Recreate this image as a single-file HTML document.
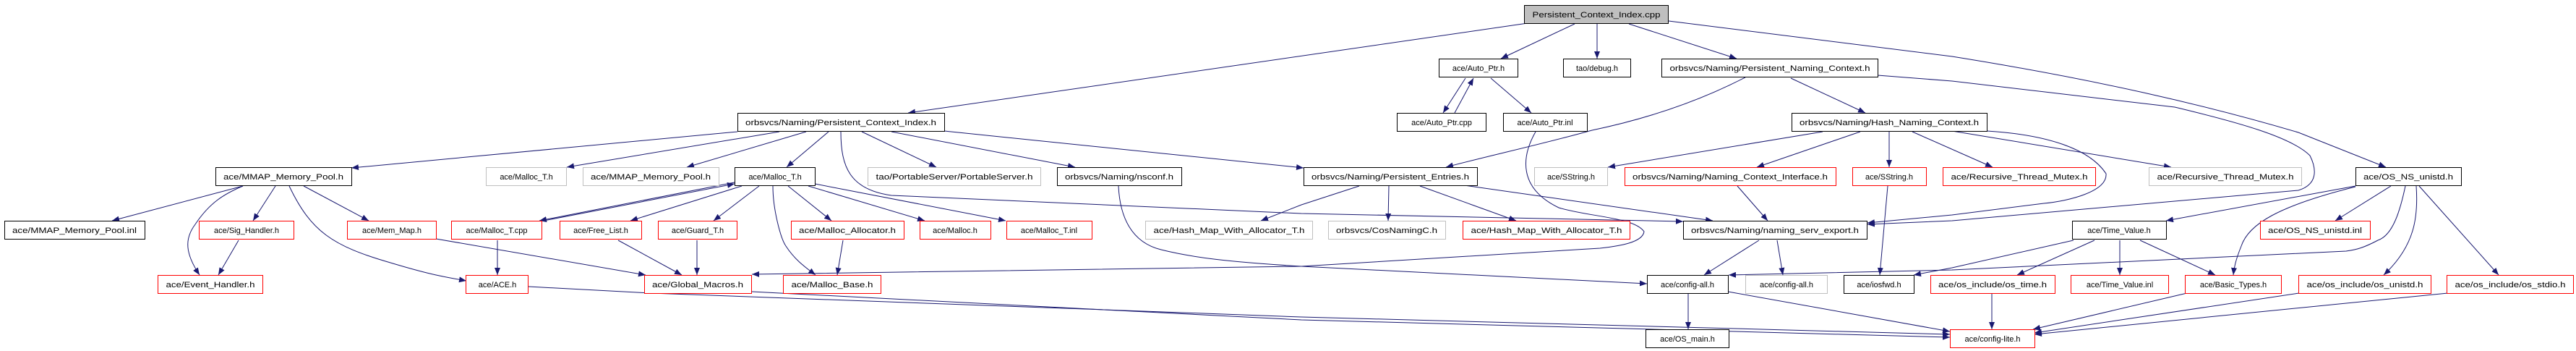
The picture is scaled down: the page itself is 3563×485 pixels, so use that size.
<!DOCTYPE html>
<html><head><meta charset="utf-8"><style>
html,body{margin:0;padding:0;background:#fff;}
svg{display:block;}
text{font-family:"Liberation Sans",sans-serif;font-size:11px;fill:#000;}
.b{fill:#fff;stroke:#000;stroke-width:1;}
.r{fill:#fff;stroke:#ff0000;stroke-width:1;}
.g{fill:#fff;stroke:#bfbfbf;stroke-width:1;}
.e{fill:none;stroke:#191970;stroke-width:1;marker-end:url(#a);}
</style></head><body>
<svg width="3563" height="485" viewBox="0 0 3563 485" xmlns="http://www.w3.org/2000/svg">
<defs><marker id="a" markerUnits="userSpaceOnUse" markerWidth="10" markerHeight="8" refX="10" refY="4" orient="auto"><path d="M0,0 L10,4 L0,8 z" fill="#191970"/></marker></defs>

<!-- edges -->
<path class="e" d="M2113,32 L1256,156"/>
<path class="e" d="M2178,33 L2076,81"/>
<path class="e" d="M2209,33 L2209,81"/>
<path class="e" d="M2253,33 L2402,81"/>
<path class="e" d="M2308,29 L2700,78 C2900,110 3050,145 3179,183 L3300,231"/>

<path class="e" d="M1020,182 L486,232"/>
<path class="e" d="M1078,182 L784,231"/>
<path class="e" d="M1115,182 L950,231"/>
<path class="e" d="M1146,182 L1088,231"/>
<path class="e" d="M1192,182 L1295,231"/>
<path class="e" d="M1233,182 L1487,231"/>
<path class="e" d="M1306,181 L1803,232"/>
<path class="e" d="M1163,182 C1163,230 1175,262 1233,270 L1800,295 L2328,306"/>

<path class="e" d="M1016,252 L746,305"/>
<path class="e" d="M752,305 L1016,254"/>
<path class="e" d="M1026,257 L872,305"/>
<path class="e" d="M1050,257 L987,305"/>
<path class="e" d="M1069,257 C1069,290 1080,330 1087,340 C1100,360 1115,370 1128,380"/>
<path class="e" d="M1090,257 L1150,305"/>
<path class="e" d="M1118,257 L1279,305"/>
<path class="e" d="M1127,254 L1391,305"/>

<path class="e" d="M336,257 L155,305"/>
<path class="e" d="M336,257 C310,268 290,280 270,310 C255,330 256,350 276,380"/>
<path class="e" d="M381,257 L350,305"/>
<path class="e" d="M420,257 L510,305"/>
<path class="e" d="M400,257 C430,320 460,340 540,363 C590,378 610,382 645,388"/>
<path class="e" d="M330,332 L302,380"/>
<path class="e" d="M603,330 L893,380"/>
<path class="e" d="M688,332 L688,380"/>
<path class="e" d="M855,332 L943,380"/>
<path class="e" d="M964,332 L964,380"/>
<path class="e" d="M1166,332 L1158,380"/>
<path class="e" d="M731,396 L900,405 L1800,438 L2697,462"/>
<path class="e" d="M1040,403 L1800,442 L2697,466"/>

<path class="e" d="M1547,257 C1549,300 1565,335 1606,345 C1650,356 1700,362 1800,368 L2278,392"/>
<path class="e" d="M2124,182 C2104,217 2100,260 2156,287 C2200,300 2260,300 2274,320 C2272,335 2240,340 2213,343 L1800,368 L1040,379"/>

<path class="e" d="M1880,257 L1800,283 L1744,305"/>
<path class="e" d="M1921,257 L1920,305"/>
<path class="e" d="M1964,257 L2097,305"/>
<path class="e" d="M2025,256 L2369,305"/>

<path class="e" d="M2027,108 L1996,156"/>
<path class="e" d="M2012,156 L2038,108"/>
<path class="e" d="M2062,108 L2118,156"/>

<path class="e" d="M2414,107 C2330,150 2250,170 2202,180 C2130,200 2060,215 2000,231"/>
<path class="e" d="M2477,108 L2580,156"/>
<path class="e" d="M2597,104 L2700,112 L3008,148 C3100,170 3170,190 3195,215 C3205,235 3205,255 3179,263 L2700,305 L2583,310"/>

<path class="e" d="M2521,182 L2224,231"/>
<path class="e" d="M2573,182 L2430,231"/>
<path class="e" d="M2613,182 L2613,231"/>
<path class="e" d="M2645,182 L2756,231"/>
<path class="e" d="M2700,181 L3003,231"/>
<path class="e" d="M2748,181 C2830,186 2890,205 2913,240 C2915,265 2860,278 2827,281 L2700,297 L2583,308"/>

<path class="e" d="M2403,257 L2445,305"/>
<path class="e" d="M2611,257 L2600,380"/>
<path class="e" d="M2433,332 L2357,380"/>
<path class="e" d="M2458,332 L2466,380"/>
<path class="e" d="M2335,405 L2335,455"/>
<path class="e" d="M2390,403 L2697,458"/>

<path class="e" d="M3258,257 L2996,305"/>
<path class="e" d="M3258,258 C3150,285 3110,310 3100,340 C3092,360 3090,370 3089,380"/>
<path class="e" d="M3307,257 L3230,305"/>
<path class="e" d="M3342,257 C3345,300 3340,340 3297,380"/>
<path class="e" d="M3346,257 L3456,380"/>
<path class="e" d="M3327,257 C3320,290 3310,325 3289,332 C3270,342 3260,345 3245,347 L2700,373 L2391,380"/>
<path class="e" d="M2868,332 L2700,370 L2647,380"/>
<path class="e" d="M2897,332 L2790,380"/>
<path class="e" d="M2932,332 L2932,380"/>
<path class="e" d="M2960,332 L3064,380"/>
<path class="e" d="M2755,405 L2755,455"/>
<path class="e" d="M3025,405 L2812,455"/>
<path class="e" d="M3180,405 L2814,460"/>
<path class="e" d="M3386,405 L2814,462"/>

<!-- nodes -->
<rect x="2108.5" y="7.5" width="199" height="25" fill="#bfbfbf" stroke="#000"/>
<text x="2208" y="24" text-anchor="middle" textLength="177" lengthAdjust="spacingAndGlyphs">Persistent_Context_Index.cpp</text>

<rect class="b" x="1990.5" y="81.5" width="109" height="25"/><text x="2045" y="98" text-anchor="middle">ace/Auto_Ptr.h</text>
<rect class="b" x="2162.5" y="81.5" width="93" height="25"/><text x="2209" y="98" text-anchor="middle">tao/debug.h</text>
<rect class="b" x="2298.5" y="81.5" width="299" height="25"/><text x="2448" y="98" text-anchor="middle" textLength="277" lengthAdjust="spacingAndGlyphs">orbsvcs/Naming/Persistent_Naming_Context.h</text>

<rect class="b" x="1020.5" y="156.5" width="286" height="25"/><text x="1163" y="173" text-anchor="middle" textLength="264" lengthAdjust="spacingAndGlyphs">orbsvcs/Naming/Persistent_Context_Index.h</text>
<rect class="b" x="1932.5" y="156.5" width="123" height="25"/><text x="1994" y="173" text-anchor="middle">ace/Auto_Ptr.cpp</text>
<rect class="b" x="2079.5" y="156.5" width="116" height="25"/><text x="2137" y="173" text-anchor="middle">ace/Auto_Ptr.inl</text>
<rect class="b" x="2478.5" y="156.5" width="270" height="25"/><text x="2613" y="173" text-anchor="middle" textLength="248" lengthAdjust="spacingAndGlyphs">orbsvcs/Naming/Hash_Naming_Context.h</text>

<rect class="b" x="298.5" y="231.5" width="188" height="25"/><text x="392" y="248" text-anchor="middle" textLength="166" lengthAdjust="spacingAndGlyphs">ace/MMAP_Memory_Pool.h</text>
<rect class="g" x="672.5" y="231.5" width="111" height="25"/><text x="728" y="248" text-anchor="middle">ace/Malloc_T.h</text>
<rect class="g" x="806.5" y="231.5" width="188" height="25"/><text x="900" y="248" text-anchor="middle" textLength="166" lengthAdjust="spacingAndGlyphs">ace/MMAP_Memory_Pool.h</text>
<rect class="b" x="1016.5" y="231.5" width="111" height="25"/><text x="1072" y="248" text-anchor="middle">ace/Malloc_T.h</text>
<rect class="g" x="1200.5" y="231.5" width="239" height="25"/><text x="1320" y="248" text-anchor="middle" textLength="217" lengthAdjust="spacingAndGlyphs">tao/PortableServer/PortableServer.h</text>
<rect class="b" x="1462.5" y="231.5" width="172" height="25"/><text x="1548" y="248" text-anchor="middle" textLength="150" lengthAdjust="spacingAndGlyphs">orbsvcs/Naming/nsconf.h</text>
<rect class="b" x="1803.5" y="231.5" width="240" height="25"/><text x="1923" y="248" text-anchor="middle" textLength="218" lengthAdjust="spacingAndGlyphs">orbsvcs/Naming/Persistent_Entries.h</text>
<rect class="g" x="2122.5" y="231.5" width="101" height="25"/><text x="2173" y="248" text-anchor="middle">ace/SString.h</text>
<rect class="r" x="2247.5" y="231.5" width="292" height="25"/><text x="2393" y="248" text-anchor="middle" textLength="270" lengthAdjust="spacingAndGlyphs">orbsvcs/Naming/Naming_Context_Interface.h</text>
<rect class="r" x="2562.5" y="231.5" width="102" height="25"/><text x="2613" y="248" text-anchor="middle">ace/SString.h</text>
<rect class="r" x="2687.5" y="231.5" width="211" height="25"/><text x="2793" y="248" text-anchor="middle" textLength="189" lengthAdjust="spacingAndGlyphs">ace/Recursive_Thread_Mutex.h</text>
<rect class="g" x="2972.5" y="231.5" width="211" height="25"/><text x="3078" y="248" text-anchor="middle" textLength="189" lengthAdjust="spacingAndGlyphs">ace/Recursive_Thread_Mutex.h</text>
<rect class="b" x="3258.5" y="231.5" width="146" height="25"/><text x="3331" y="248" text-anchor="middle" textLength="124" lengthAdjust="spacingAndGlyphs">ace/OS_NS_unistd.h</text>

<rect class="b" x="6.5" y="305.5" width="194" height="25"/><text x="103" y="322" text-anchor="middle" textLength="172" lengthAdjust="spacingAndGlyphs">ace/MMAP_Memory_Pool.inl</text>
<rect class="r" x="275.5" y="305.5" width="131" height="25"/><text x="341" y="322" text-anchor="middle">ace/Sig_Handler.h</text>
<rect class="r" x="480.5" y="305.5" width="123" height="25"/><text x="542" y="322" text-anchor="middle">ace/Mem_Map.h</text>
<rect class="r" x="624.5" y="305.5" width="125" height="25"/><text x="687" y="322" text-anchor="middle">ace/Malloc_T.cpp</text>
<rect class="r" x="774.5" y="305.5" width="113" height="25"/><text x="831" y="322" text-anchor="middle">ace/Free_List.h</text>
<rect class="r" x="910.5" y="305.5" width="109" height="25"/><text x="965" y="322" text-anchor="middle">ace/Guard_T.h</text>
<rect class="r" x="1094.5" y="305.5" width="156" height="25"/><text x="1172" y="322" text-anchor="middle" textLength="134" lengthAdjust="spacingAndGlyphs">ace/Malloc_Allocator.h</text>
<rect class="r" x="1272.5" y="305.5" width="98" height="25"/><text x="1321" y="322" text-anchor="middle">ace/Malloc.h</text>
<rect class="r" x="1392.5" y="305.5" width="118" height="25"/><text x="1451" y="322" text-anchor="middle">ace/Malloc_T.inl</text>
<rect class="g" x="1584.5" y="305.5" width="231" height="25"/><text x="1700" y="322" text-anchor="middle" textLength="209" lengthAdjust="spacingAndGlyphs">ace/Hash_Map_With_Allocator_T.h</text>
<rect class="g" x="1837.5" y="305.5" width="162" height="25"/><text x="1918" y="322" text-anchor="middle" textLength="140" lengthAdjust="spacingAndGlyphs">orbsvcs/CosNamingC.h</text>
<rect class="r" x="2023.5" y="305.5" width="231" height="25"/><text x="2139" y="322" text-anchor="middle" textLength="209" lengthAdjust="spacingAndGlyphs">ace/Hash_Map_With_Allocator_T.h</text>
<rect class="b" x="2328.5" y="305.5" width="254" height="25"/><text x="2455" y="322" text-anchor="middle" textLength="232" lengthAdjust="spacingAndGlyphs">orbsvcs/Naming/naming_serv_export.h</text>
<rect class="b" x="2866.5" y="305.5" width="130" height="25"/><text x="2931" y="322" text-anchor="middle">ace/Time_Value.h</text>
<rect class="r" x="3126.5" y="305.5" width="152" height="25"/><text x="3202" y="322" text-anchor="middle" textLength="130" lengthAdjust="spacingAndGlyphs">ace/OS_NS_unistd.inl</text>

<rect class="r" x="218.5" y="380.5" width="145" height="25"/><text x="291" y="397" text-anchor="middle" textLength="123" lengthAdjust="spacingAndGlyphs">ace/Event_Handler.h</text>
<rect class="r" x="644.5" y="380.5" width="86" height="25"/><text x="688" y="397" text-anchor="middle">ace/ACE.h</text>
<rect class="r" x="891.5" y="380.5" width="148" height="25"/><text x="965" y="397" text-anchor="middle" textLength="126" lengthAdjust="spacingAndGlyphs">ace/Global_Macros.h</text>
<rect class="r" x="1083.5" y="380.5" width="135" height="25"/><text x="1151" y="397" text-anchor="middle" textLength="113" lengthAdjust="spacingAndGlyphs">ace/Malloc_Base.h</text>
<rect class="b" x="2278.5" y="380.5" width="112" height="25"/><text x="2334" y="397" text-anchor="middle">ace/config-all.h</text>
<rect class="g" x="2414.5" y="380.5" width="113" height="25"/><text x="2471" y="397" text-anchor="middle">ace/config-all.h</text>
<rect class="b" x="2550.5" y="380.5" width="97" height="25"/><text x="2599" y="397" text-anchor="middle">ace/iosfwd.h</text>
<rect class="r" x="2670.5" y="380.5" width="172" height="25"/><text x="2756" y="397" text-anchor="middle" textLength="150" lengthAdjust="spacingAndGlyphs">ace/os_include/os_time.h</text>
<rect class="r" x="2864.5" y="380.5" width="135" height="25"/><text x="2932" y="397" text-anchor="middle">ace/Time_Value.inl</text>
<rect class="r" x="3022.5" y="380.5" width="133" height="25"/><text x="3089" y="397" text-anchor="middle">ace/Basic_Types.h</text>
<rect class="r" x="3179.5" y="380.5" width="183" height="25"/><text x="3271" y="397" text-anchor="middle" textLength="161" lengthAdjust="spacingAndGlyphs">ace/os_include/os_unistd.h</text>
<rect class="r" x="3384.5" y="380.5" width="175" height="25"/><text x="3472" y="397" text-anchor="middle" textLength="153" lengthAdjust="spacingAndGlyphs">ace/os_include/os_stdio.h</text>

<rect class="b" x="2276.5" y="455.5" width="115" height="25"/><text x="2334" y="472" text-anchor="middle">ace/OS_main.h</text>
<rect class="r" x="2697.5" y="455.5" width="117" height="25"/><text x="2756" y="472" text-anchor="middle">ace/config-lite.h</text>
</svg>
</body></html>
